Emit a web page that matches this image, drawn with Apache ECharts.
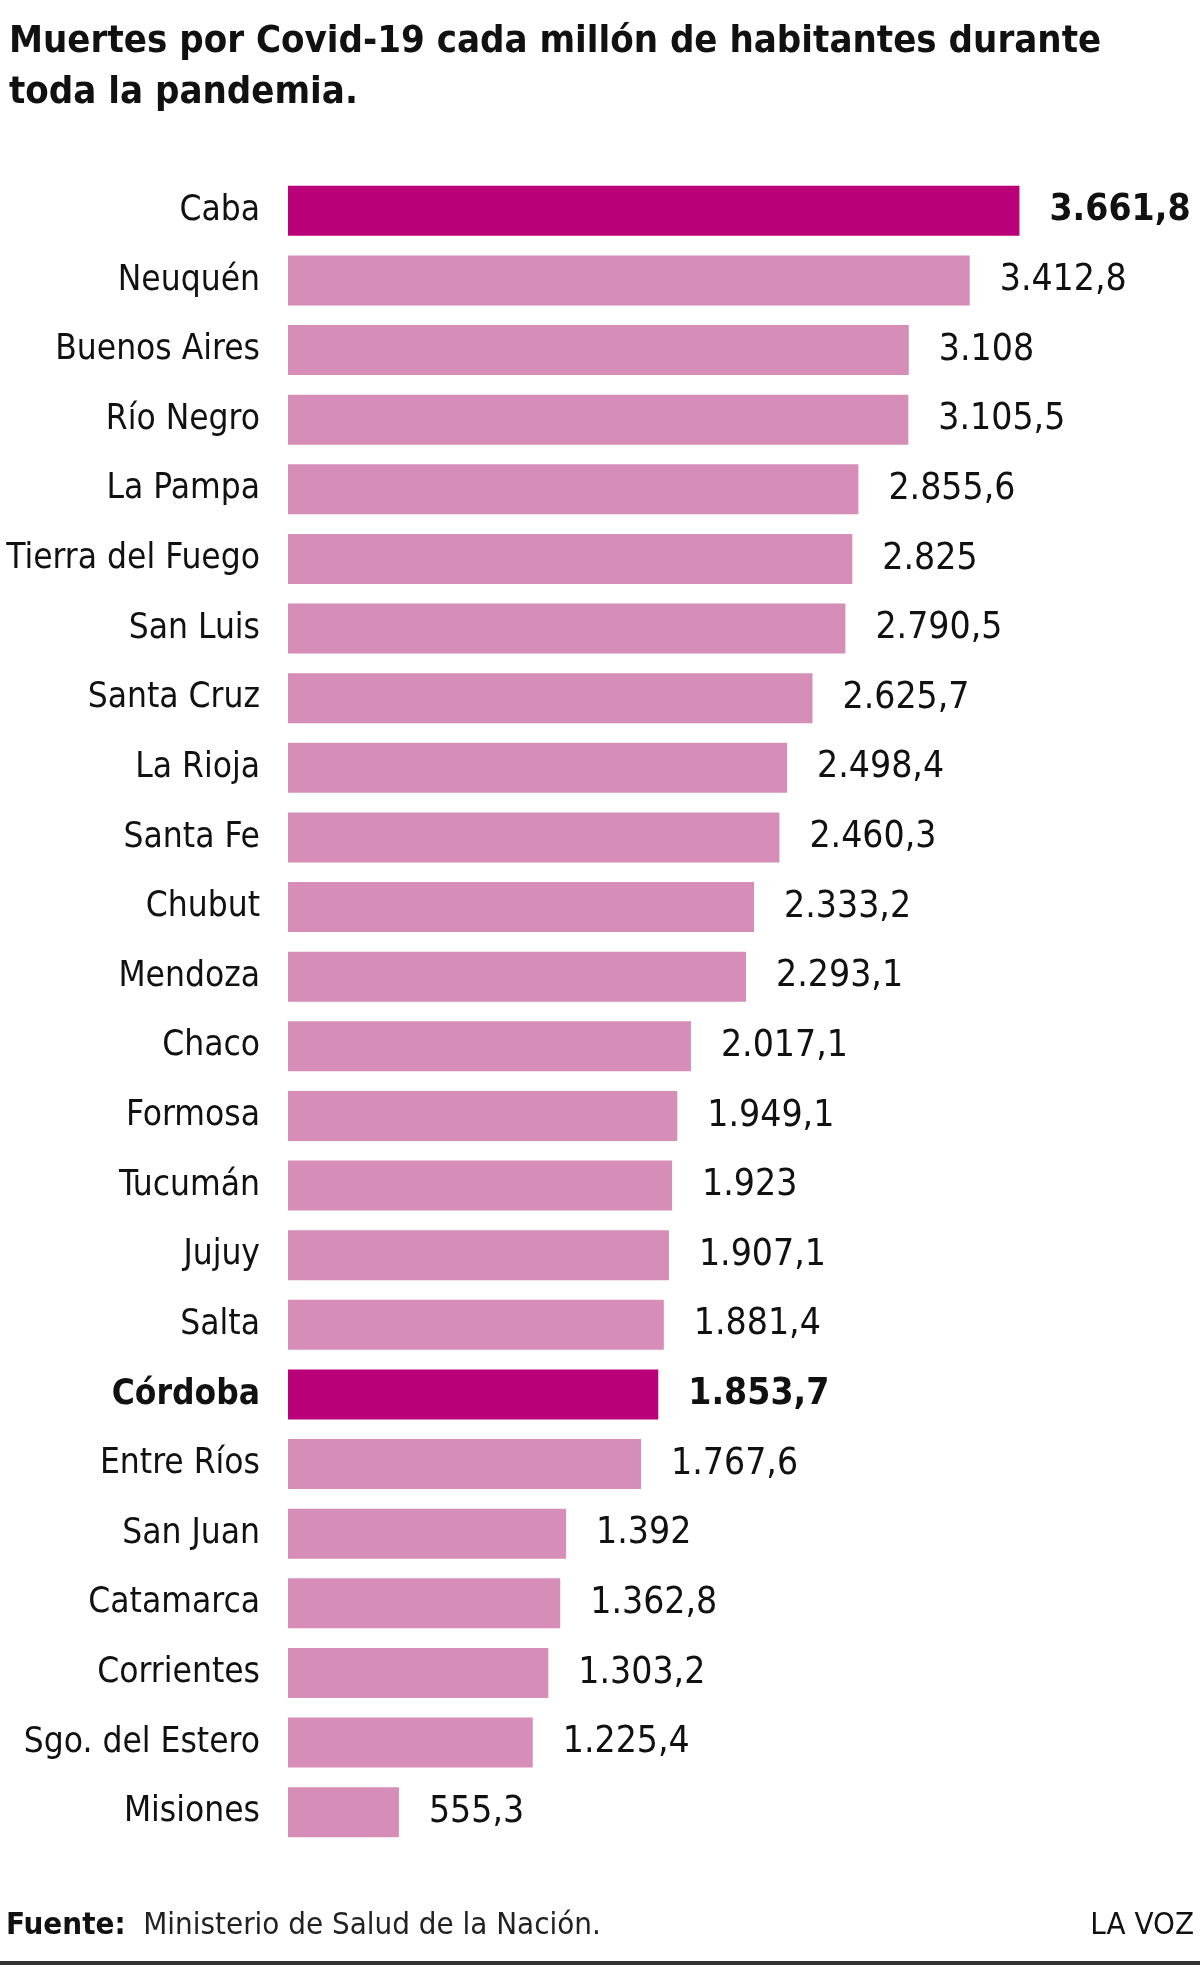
<!DOCTYPE html>
<html lang="es">
<head>
  <meta charset="utf-8"/>
  <title>Muertes por Covid-19 cada millón de habitantes</title>
  <script src="https://cdn.jsdelivr.net/npm/echarts@6/dist/echarts.min.js"></script>
  <style>
    html, body { margin: 0; padding: 0; background: #fff; }
    #chart { width: 1200px; height: 1967px; }
  </style>
</head>
<body>
<div id="chart"></div>
<script>
  // datos
  var provincias = ['Caba', 'Neuquén', 'Buenos Aires', 'Río Negro', 'La Pampa', 'Tierra del Fuego',
    'San Luis', 'Santa Cruz', 'La Rioja', 'Santa Fe', 'Chubut', 'Mendoza', 'Chaco', 'Formosa',
    'Tucumán', 'Jujuy', 'Salta', 'Córdoba', 'Entre Ríos', 'San Juan', 'Catamarca', 'Corrientes',
    'Sgo. del Estero', 'Misiones'];
  var muertes = [3661.8, 3412.8, 3108, 3105.5, 2855.6, 2825, 2790.5, 2625.7, 2498.4, 2460.3,
    2333.2, 2293.1, 2017.1, 1949.1, 1923, 1907.1, 1881.4, 1853.7, 1767.6, 1392, 1362.8,
    1303.2, 1225.4, 555.3];
  var destacadas = ['Caba', 'Córdoba'];
  var boldLabels = ['Córdoba'];

  var FONT = '"Liberation Sans Narrow", "DejaVu Sans Condensed", sans-serif';
  var ROSA = '#d68eb9', MAGENTA = '#ba0079';

  // 3661.8 -> 3.661,8
  function fmt(v) {
    var parts = String(v).split('.');
    var ent = parts[0].replace(/\B(?=(\d{3})+(?!\d))/g, '.');
    return parts.length > 1 ? ent + ',' + parts[1] : ent;
  }

  var chart = echarts.init(document.getElementById('chart'));

  var option = {
    backgroundColor: '#fff',
    animation: false,
    title: {
      text: 'Muertes por Covid-19 cada millón de habitantes durante\ntoda la pandemia.',
      left: 4,
      top: 12,
      textStyle: {
        fontFamily: FONT,
        fontSize: 38,
        fontWeight: 'bold',
        color: '#111',
        lineHeight: 51
      }
    },
    grid: { left: 288, right: 113, top: 176, bottom: 120, outerBoundsMode: 'none', containLabel: false },
    xAxis: {
      type: 'value',
      min: 0,
      max: 4000,
      show: false
    },
    yAxis: {
      type: 'category',
      inverse: true,
      data: provincias,
      axisLine: { show: false },
      axisTick: { show: false },
      axisLabel: {
        margin: 28,
        fontFamily: FONT,
        fontSize: 35,
        color: '#111',
        formatter: function (v) {
          return boldLabels.indexOf(v) >= 0 ? '{b|' + v + '}' : v;
        },
        rich: {
          b: { fontFamily: FONT, fontSize: 35, fontWeight: 'bold', color: '#111' }
        }
      }
    },
    series: [{
      type: 'bar',
      barWidth: 50,
      data: muertes.map(function (v, i) {
        var hi = destacadas.indexOf(provincias[i]) >= 0;
        return {
          value: v,
          itemStyle: { color: hi ? MAGENTA : ROSA },
          label: { fontWeight: hi ? 'bold' : 'normal' }
        };
      }),
      label: {
        show: true,
        position: 'right',
        distance: 30,
        fontFamily: FONT,
        fontSize: 37,
        color: '#111',
        formatter: function (p) { return fmt(p.value); }
      }
    }],
    graphic: [
      {
        type: 'text', left: 6, top: 1910,
        style: {
          text: '{b|Fuente:}  Ministerio de Salud de la Nación.',
          fontFamily: FONT, fontSize: 31, fill: '#222',
          rich: { b: { fontFamily: FONT, fontSize: 31, fontWeight: 'bold', fill: '#111' } }
        }
      },
      {
        type: 'text', right: 6, top: 1910,
        style: { text: 'LA VOZ', fontFamily: FONT, fontSize: 31, fill: '#111' }
      },
      {
        type: 'rect', left: 0, top: 1961,
        shape: { width: 1200, height: 4 },
        style: { fill: '#333' }
      }
    ]
  };

  chart.setOption(option);
</script>
</body>
</html>
